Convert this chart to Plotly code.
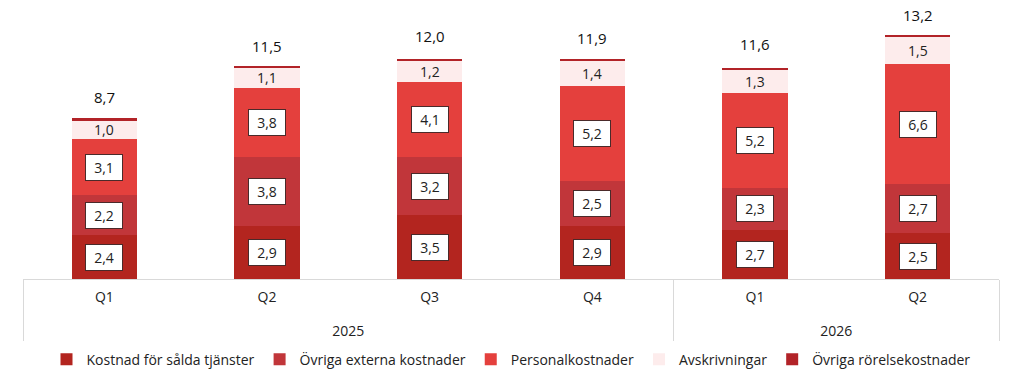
import plotly.graph_objects as go

years = ["2025", "2025", "2025", "2025", "2026", "2026"]
quarters = ["Q1", "Q2", "Q3", "Q4", "Q1", "Q2"]

series_names = ["Kostnad för sålda tjänster", "Övriga externa kostnader", "Personalkostnader",
                "Avskrivningar", "Övriga rörelsekostnader"]
kostnad = [2.4, 2.9, 3.5, 2.9, 2.7, 2.5]
externa = [2.2, 3.8, 3.2, 2.5, 2.3, 2.7]
personal = [3.1, 3.8, 4.1, 5.2, 5.2, 6.6]
avskr = [1.0, 1.1, 1.2, 1.4, 1.3, 1.5]
rorelse = [0.12, 0.05, 0.07, 0.08, 0.08, 0.05]
totals = [8.7, 11.5, 12.0, 11.9, 11.6, 13.2]

colors = ["#B3251F", "#C1363A", "#E4403D", "#FDECEC", "#B22328"]
series = [kostnad, externa, personal, avskr, rorelse]

FONT = "Open Sans"
year_labels = ["<br>" + y for y in years]

fig = go.Figure()
for name, vals, col in zip(series_names, series, colors):
    fig.add_trace(go.Bar(x=[year_labels, quarters], y=vals, name=name, marker_color=col,
                         marker_line_width=0))

ann = []
for i in range(len(quarters)):
    base = 0.0
    for k, vals in enumerate(series[:4]):
        v = vals[i]
        txt = f"{v:.1f}".replace(".", ",")
        if k < 3:
            ann.append(dict(x=i, y=base + v / 2, text=txt, showarrow=False, xref="x", yref="y",
                            bgcolor="white", bordercolor="#4a2a2a", borderwidth=1, borderpad=3,
                            width=30, font=dict(family=FONT, size=14, color="#222")))
        else:
            ann.append(dict(x=i, y=base + v / 2, text=txt, showarrow=False, xref="x", yref="y",
                            font=dict(family=FONT, size=14, color="#222")))
        base += v
    ann.append(dict(x=i, y=totals[i], text=f"{totals[i]:.1f}".replace(".", ","), showarrow=False,
                    xref="x", yref="y", yshift=24,
                    font=dict(family=FONT, size=15, color="#111")))

fig.update_layout(
    barmode="stack",
    bargap=0.6,
    width=1024, height=388,
    margin=dict(l=23, r=25, t=4, b=109),
    paper_bgcolor="white", plot_bgcolor="white",
    font=dict(family=FONT, size=14, color="#222"),
    annotations=ann,
    showlegend=True,
    legend=dict(orientation="h", x=0.5, xanchor="center", y=-0.235, yanchor="top",
                font=dict(family=FONT, size=14, color="#222"), traceorder="normal",
                itemwidth=30),
    xaxis=dict(type="multicategory", showline=True, linecolor="#d9d9d9", linewidth=1,
               showdividers=True, dividercolor="#d9d9d9", dividerwidth=1,
               ticklabelstandoff=5,
               tickfont=dict(family=FONT, size=14, color="#222"), ticks=""),
    yaxis=dict(range=[0, 15.1], visible=False, showgrid=False, zeroline=False),
)

fig.write_html("out.html")
